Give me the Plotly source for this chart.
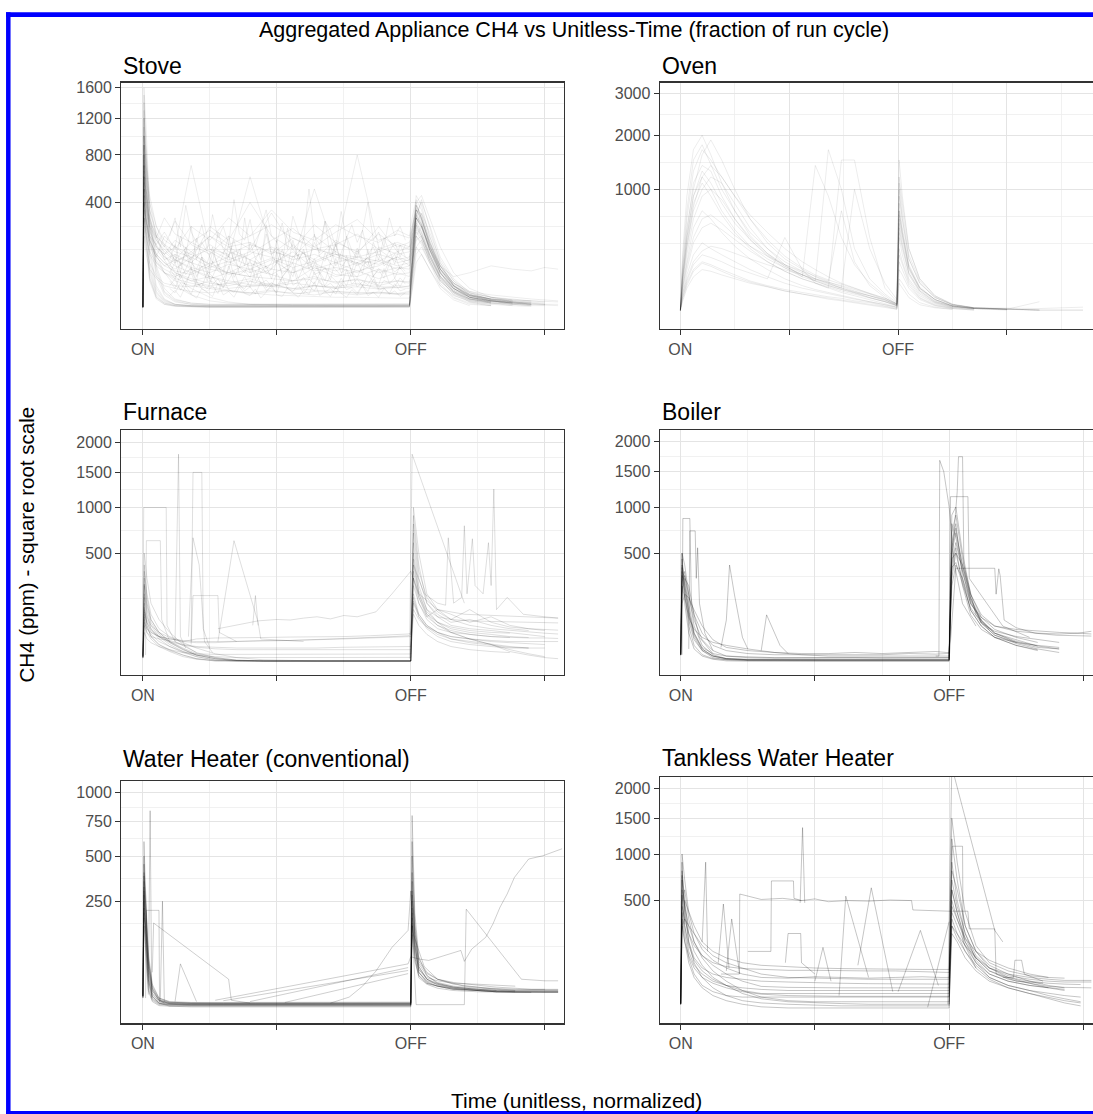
import numpy as np
import plotly.graph_objects as go

N = None
W, H = 1093, 1114

# ------------------------------------------------------------------ data (ppm vs unitless time)
stove_t = [0, 0.004, 0.012, 0.025, 0.05, 0.08, 0.12, 0.18, 0.25, 0.32, 0.4, 0.48, 0.56, 0.64, 0.72,
           0.8, 0.88, 0.95, 0.995, 1.005, 1.02, 1.04, 1.07, 1.11, 1.16, 1.22, 1.3, 1.38, 1.45, 1.5, 1.55]
stove_runs = [
    [3, 1500, 700, 150, 30, 10, 5, 4, 3.5, 3.5, 3.5, 3.4, 3.4, 3.4, 3.4, 3.4, 3.4, 3.4, 3.5, 80, 380, 300, 160, 60, 20, 8, 5, 4, N, N, N],
    [2.5, 1200, 400, 90, 20, 8, 5, 4, 4, 4, 4, 4, 4, 4, 4, 4, 4, 4, 4, 50, 300, 420, 250, 90, 30, 12, 6, 4, 3.5, N, N],
    [3, 900, 250, 60, 15, 6, 4, 3.5, 3.2, 3.2, 3.2, 3.2, 3.2, 3.2, 3.2, 3.2, 3.2, 3.2, 3.3, 40, 200, 250, 140, 50, 18, 7, 4, N, N, N, N],
    [3.5, 1000, 600, 200, 50, 15, 7, 5, 4.5, 4.5, 4.4, 4.4, 4.4, 4.3, 4.3, 4.3, 4.3, 4.3, 4.5, 120, 450, 380, 200, 80, 30, 12, 7, 5, 4, 4, N],
    [2.8, 700, 200, 50, 12, 5, 3.8, 3.3, 3, 3, 3, 3, 3, 3, 3, 3, 3, 3, 3.1, 30, 150, 180, 100, 35, 12, 6, 4, N, N, N, N],
    [3, 1600, 1100, 350, 80, 25, 10, 6, 5, 5, 5, 5, 5, 5, 5, 5, 5, 5, 5.5, 90, 350, 320, 180, 70, 25, 10, 6, 5, 4.5, N, N],
    [2.5, 500, 150, 40, 10, 5, 3.5, 3, 2.8, 2.8, 2.8, 2.8, 2.8, 2.8, 2.8, 2.8, 2.8, 2.8, 2.9, 20, 90, 120, 70, 25, 9, 4, N, N, N, N, N],
    [3.2, 1100, 500, 120, 25, 9, 5, 4, 3.8, 3.8, 3.8, 3.7, 3.7, 3.7, 3.7, 3.7, 3.7, 3.8, 3.9, 60, 260, 330, 220, 100, 40, 15, 8, 5, 4, N, N],
    [3, 800, 300, 70, 18, 7, 4.5, 3.8, 3.6, 3.6, 3.6, 3.6, 3.6, 3.6, 3.6, 3.6, 3.6, 3.6, 3.7, 45, 180, 200, 120, 45, 15, 7, 5, N, N, N, N],
    [2.7, 1300, 800, 250, 60, 18, 8, 5, 4, 3.9, 3.9, 3.9, 3.9, 3.9, 3.9, 3.9, 3.9, 3.9, 4, 100, 400, 450, 300, 150, 60, 25, 12, 7, 5, 4.5, 4],
    [3, 600, 180, 45, 12, 6, 4, 3.4, 3.3, 3.3, 3.3, 3.3, 3.3, 3.3, 3.3, 3.3, 3.3, 3.3, 3.4, 25, 120, 150, 90, 30, 11, 5, 4, N, N, N, N],
    [3.3, 1400, 900, 300, 70, 20, 9, 6, 5, 4.8, 4.6, 4.5, 4.5, 4.5, 4.5, 4.5, 4.5, 4.5, 4.6, 70, 320, 400, 260, 110, 45, 18, 9, 6, 5, N, N],
    [3, 600, 400, 250, 150, 110, 90, 130, 80, 150, 100, 70, 160, 90, 120, 80, 140, 90, 100, 220, 350, 280, 150, 70, 30, 15, 10, 8, N, N, N],
    [3, 400, 300, 200, 160, 220, 140, 250, 180, 300, 200, 350, 220, 180, 260, 200, 170, 230, 200, 300, 420, 350, 200, 90, 40, 20, 12, 9, 8, 7, N],
    [3, 300, 200, 120, 80, 60, 50, 70, 45, 60, 90, 55, 40, 75, 50, 65, 45, 60, 50, 150, 280, 220, 120, 50, 20, 10, 7, 6, 5, N, N],
    [3, 800, 500, 300, 200, 150, 280, 160, 120, 200, 140, 330, 150, 100, 180, 120, 250, 130, 150, 250, 400, 300, 170, 80, 35, 18, 12, 10, 8, N, N],
    [3, 250, 150, 90, 50, 35, 30, 28, 40, 25, 30, 35, 22, 30, 28, 35, 25, 30, 28, 90, 200, 160, 90, 40, 18, 10, 7, N, N, N, N],
    [3, 1000, 700, 400, 250, 180, 150, 120, 200, 130, 100, 150, 110, 200, 130, 800, 150, 120, 130, 180, 300, 250, 140, 70, 35, 20, 15, 12, 10, 9, 8],
    [3, 500, 350, 220, 150, 120, 150, 700, 140, 120, 160, 130, 110, 140, 120, 110, 130, 160, 140, 200, 300, 250, 150, 80, 50, 60, 80, 70, 65, 75, 70],
    [3, 350, 250, 180, 120, 90, 70, 110, 75, 95, 60, 85, 130, 70, 90, 65, 80, 110, 80, 160, 260, 200, 110, 50, 22, 12, 8, 7, 6, 5, N],
    [3, 450, 300, 180, 110, 200, 150, 100, 250, 180, 400, 200, 140, 260, 170, 130, 210, 150, 170, 230, 380, 300, 160, 70, 30, 15, 10, N, N, N, N],
    [3, 200, 120, 70, 45, 30, 25, 20, 18, 22, 16, 20, 18, 15, 20, 17, 19, 16, 18, 60, 150, 120, 70, 30, 14, 8, 6, 5, N, N, N],
    [3, 700, 450, 250, 180, 140, 100, 170, 130, 90, 120, 180, 240, 150, 110, 90, 120, 100, 110, 200, 320, 260, 140, 60, 25, 12, 8, 6, 5, 5, N],
    [3, 300, 220, 160, 110, 80, 65, 55, 80, 60, 50, 70, 60, 90, 55, 50, 70, 55, 60, 120, 240, 200, 110, 50, 25, 14, 10, 9, 8, 7, 7],
    [3, 900, 600, 350, 200, 120, 60, 40, 30, 35, 28, 32, 25, 30, 26, 28, 24, 27, 25, 80, 220, 180, 100, 40, 16, 9, 6, N, N, N, N],
    [3, 550, 380, 260, 190, 300, 210, 170, 230, 160, 200, 260, 190, 150, 220, 290, 180, 210, 190, 250, 350, 290, 170, 80, 35, 18, 12, 9, N, N, N],
    [3, 400, 280, 200, 140, 100, 120, 90, 160, 110, 600, 140, 100, 120, 90, 110, 95, 130, 100, 180, 300, 240, 130, 60, 25, 12, 8, 6, N, N, N],
    [3, 650, 420, 280, 200, 160, 130, 110, 140, 100, 130, 110, 90, 500, 120, 100, 85, 110, 95, 200, 330, 270, 140, 65, 28, 14, 9, 7, 6, N, N],
    [3, 800, 500, 250, 120, 60, 30, 15, 8, 6, 5, 5, 5, 5, 5, 5, 5, 5, 5, 60, 300, 250, 150, 60, 25, 12, 8, 6, N, N, N],
    [3, 1000, 700, 400, 200, 100, 50, 25, 12, 7, 5, 4.5, 4.5, 4.5, 4.5, 4.5, 4.5, 4.5, 4.5, 80, 350, 300, 170, 70, 30, 14, 8, 6, 5, N, N],
    [3, 600, 400, 200, 100, 60, 40, 30, 25, 20, 18, 22, 16, 20, 18, 15, 19, 17, 20, 70, 250, 200, 110, 45, 20, 10, 7, N, N, N, N],
    [3, 450, 300, 160, 90, 70, 55, 40, 50, 35, 45, 30, 40, 50, 35, 45, 30, 40, 35, 100, 260, 210, 120, 55, 25, 13, 9, 7, N, N, N],
    [3, 700, 450, 280, 160, 110, 80, 60, 90, 55, 70, 100, 60, 80, 65, 90, 60, 75, 70, 140, 300, 250, 140, 60, 28, 14, 9, 7, 6, N, N],
    [3, 350, 260, 170, 110, 80, 100, 75, 60, 85, 70, 55, 90, 65, 75, 60, 95, 70, 80, 130, 270, 220, 120, 50, 22, 11, 8, 6, N, N, N],
    [3, 900, 600, 350, 220, 150, 110, 90, 70, 60, 50, 45, 40, 45, 38, 42, 36, 40, 38, 100, 320, 260, 140, 60, 25, 12, 8, 6, 5, N, N],
    [3, 500, 350, 230, 150, 120, 180, 130, 200, 150, 170, 120, 190, 140, 160, 210, 140, 170, 150, 220, 360, 290, 160, 75, 32, 16, 10, 8, 7, N, N],
    [3, 400, 280, 180, 120, 90, 60, 45, 35, 30, 40, 28, 35, 30, 25, 32, 28, 26, 30, 80, 230, 190, 100, 45, 20, 10, 7, N, N, N, N],
    [3, 750, 500, 300, 180, 130, 95, 120, 85, 110, 80, 105, 75, 95, 130, 85, 100, 80, 90, 160, 310, 260, 150, 70, 30, 15, 10, 8, 7, 6, N],
    [3, 300, 200, 130, 90, 60, 45, 35, 28, 22, 18, 15, 14, 13, 12, 12, 11, 11, 11, 50, 200, 170, 95, 40, 18, 9, 6, N, N, N, N],
    [3, 1200, 800, 450, 250, 160, 100, 70, 50, 40, 32, 28, 25, 22, 20, 18, 17, 16, 16, 90, 380, 320, 180, 80, 35, 16, 10, 7, 6, 5, 5],
]
# finely sampled noisy stretches of stove runs (between ignition and shut-off)
stove_fine_t = [0.1, 0.12, 0.14, 0.16, 0.18, 0.2, 0.22, 0.24, 0.26, 0.28, 0.3, 0.32, 0.34, 0.36, 0.38,
                0.4, 0.42, 0.44, 0.46, 0.48, 0.5, 0.52, 0.54, 0.56, 0.58, 0.6, 0.62, 0.64, 0.66, 0.68,
                0.7, 0.72, 0.74, 0.76, 0.78, 0.8, 0.82, 0.84, 0.86, 0.88, 0.9, 0.92, 0.94, 0.96, 0.98]
stove_fine_runs = [
    [14, 22, 12, 30, 16, 11, 25, 18, 13, 35, 15, 20, 12, 28, 17, 14, 24, 11, 19, 32, 15, 13, 26, 18, 12, 22, 16, 38, 14, 20, 13, 27, 17, 12, 23, 15, 30, 14, 19, 12, 25, 16, 21, 13, 18],
    [40, 25, 55, 30, 70, 35, 28, 60, 32, 45, 26, 80, 38, 30, 50, 27, 65, 33, 42, 29, 58, 36, 31, 75, 34, 48, 28, 62, 35, 30, 52, 40, 27, 68, 33, 44, 29, 56, 37, 31, 72, 35, 46, 28, 50],
    [30, 45, 22, 38, 60, 28, 35, 24, 50, 32, 27, 42, 65, 30, 25, 40, 34, 55, 26, 36, 29, 48, 70, 31, 38, 26, 44, 33, 58, 28, 35, 24, 46, 30, 62, 27, 39, 32, 52, 25, 41, 35, 28, 47, 33],
    [80, 120, 60, 150, 90, 70, 110, 55, 130, 85, 65, 160, 95, 75, 120, 60, 100, 140, 70, 90, 180, 80, 65, 115, 95, 140, 70, 105, 60, 125, 85, 170, 75, 100, 65, 135, 90, 110, 70, 150, 80, 95, 120, 70, 100],
    [60, 45, 90, 55, 75, 40, 110, 65, 50, 85, 45, 70, 130, 55, 65, 48, 95, 60, 80, 44, 100, 58, 72, 50, 120, 62, 47, 88, 56, 76, 42, 105, 60, 70, 50, 92, 58, 140, 52, 68, 46, 85, 62, 75, 55],
    [150, 90, 200, 120, 250, 100, 170, 130, 90, 220, 140, 110, 180, 95, 300, 130, 160, 100, 210, 120, 150, 90, 240, 140, 115, 190, 100, 170, 125, 280, 110, 160, 95, 200, 135, 105, 230, 120, 150, 100, 190, 130, 170, 110, 160],
    [100, 160, 80, 130, 70, 190, 110, 90, 150, 75, 120, 200, 95, 140, 80, 170, 105, 85, 260, 115, 90, 140, 75, 180, 100, 130, 85, 210, 110, 95, 155, 80, 125, 190, 90, 145, 100, 80, 170, 115, 95, 135, 85, 160, 110],
    [200, 300, 150, 380, 220, 170, 260, 140, 320, 190, 250, 160, 420, 210, 180, 290, 150, 240, 350, 200, 170, 270, 140, 310, 220, 180, 500, 200, 160, 280, 230, 150, 340, 190, 260, 170, 230, 400, 180, 220, 150, 300, 200, 250, 180],
    [25, 18, 35, 22, 16, 40, 24, 20, 30, 17, 45, 23, 19, 33, 21, 28, 16, 38, 22, 26, 18, 50, 24, 20, 32, 17, 29, 21, 42, 19, 25, 16, 36, 23, 27, 18, 31, 20, 44, 22, 26, 17, 34, 21, 24],
    [60, 90, 45, 70, 110, 50, 80, 40, 95, 65, 55, 120, 48, 75, 60, 100, 42, 85, 58, 70, 130, 50, 66, 90, 45, 78, 105, 55, 62, 40, 88, 70, 52, 115, 60, 48, 82, 95, 50, 72, 58, 100, 46, 80, 64],
]
stove_extra_x = [stove_fine_t] * len(stove_fine_runs)
stove_extra_y = stove_fine_runs

oven_t = [0, 0.01, 0.03, 0.06, 0.1, 0.14, 0.19, 0.25, 0.32, 0.4, 0.48, 0.56, 0.62, 0.68, 0.74,
          0.8, 0.87, 0.94, 0.995, 1.005, 1.02, 1.05, 1.1, 1.17, 1.25, 1.35, 1.5, 1.65, 1.85]
oven_runs = [
    [6, 100, 400, 900, 1300, 1100, 800, 550, 380, 250, 170, 120, 90, 70, 55, 45, 30, 20, 12, 700, 450, 170, 60, 25, 12, 8, N, N, N],
    [5, 200, 700, 1500, 1800, 1400, 1000, 700, 450, 300, 200, 140, 100, 80, 60, 45, 35, 25, 15, 1000, 600, 220, 80, 30, 14, 9, 7, N, N],
    [7, 60, 200, 500, 700, 600, 450, 320, 220, 150, 100, 70, 55, 45, 35, 28, 20, 14, 9, 400, 250, 100, 40, 18, 10, 7, N, N, N],
    [5, 150, 500, 1000, 1600, 1900, 1500, 1000, 600, 350, 220, 150, 110, 85, 65, 50, 35, 22, 14, 1200, 800, 300, 100, 35, 15, 9, 7, 6, N],
    [6, 40, 120, 250, 350, 300, 250, 200, 150, 110, 80, 60, 50, 40, 32, 26, 20, 14, 10, 300, 200, 90, 35, 16, 9, N, N, N, N],
    [5, 80, 300, 700, 1000, 1200, 1100, 800, 500, 300, 180, 110, 1400, 900, 400, 180, 80, 35, 15, 800, 500, 180, 65, 25, 12, 8, 6, N, N],
    [6, 30, 80, 150, 200, 180, 150, 120, 90, 70, 55, 45, 38, 32, 28, 22, 18, 12, 8, 150, 120, 60, 25, 12, 8, 6, N, N, N],
    [5, 120, 450, 1100, 1400, 1300, 900, 600, 380, 240, 160, 110, 90, 1700, 1000, 300, 100, 40, 18, 900, 600, 220, 80, 30, 14, 9, 7, 6, 6],
    [7, 50, 150, 350, 500, 550, 480, 380, 280, 200, 140, 100, 80, 65, 50, 40, 30, 20, 12, 500, 320, 130, 50, 20, 11, 8, 7, N, N],
    [6, 250, 900, 1700, 2000, 1600, 1100, 700, 420, 260, 170, 120, 90, 70, 55, 42, 30, 20, 13, 1500, 900, 300, 100, 35, 15, 9, 7, 6, N],
    [5, 20, 60, 110, 150, 140, 120, 100, 80, 65, 50, 40, 34, 28, 24, 20, 15, 11, 7, 100, 80, 40, 18, 10, 7, N, N, N, N],
    [6, 100, 350, 800, 1100, 900, 650, 450, 300, 200, 140, 100, 80, 60, 1500, 1500, 400, 60, 20, 600, 400, 150, 55, 22, 11, 8, N, N, N],
    [7, 70, 250, 600, 900, 1000, 850, 600, 400, 260, 180, 130, 100, 80, 60, 48, 35, 24, 14, 700, 450, 160, 60, 25, 12, 8, 7, 20, N],
    [6, 40, 100, 200, 280, 320, 300, 260, 220, 180, 150, 120, 100, 85, 70, 55, 40, 25, 12, 250, 180, 80, 30, 14, 9, 7, N, N, N],
    [5, 150, 600, 1300, 1700, 1500, 1200, 900, 650, 450, 300, 200, 150, 110, 80, 60, 42, 28, 16, 1100, 700, 250, 90, 32, 14, 9, 7, 6, 6],
    [6, 30, 90, 180, 250, 230, 200, 160, 130, 100, 400, 150, 80, 60, 45, 35, 25, 16, 10, 200, 150, 70, 28, 13, 8, 6, N, N, N],
    [7, 60, 180, 400, 600, 650, 550, 420, 320, 240, 180, 140, 110, 90, 700, 200, 70, 30, 14, 450, 300, 120, 45, 18, 10, 8, 7, N, N],
    [5, 90, 320, 750, 1200, 1400, 1200, 900, 600, 380, 240, 160, 120, 95, 75, 58, 42, 28, 16, 650, 420, 160, 60, 25, 12, 8, 7, 6, N],
    [6, 25, 70, 140, 190, 170, 140, 110, 85, 65, 50, 40, 32, 26, 22, 18, 14, 10, 7, 80, 60, 30, 14, 9, 7, N, N, N, N],
    [6, 110, 400, 900, 1200, 1000, 700, 480, 320, 220, 160, 120, 95, 75, 60, 1000, 300, 80, 25, 550, 350, 130, 50, 20, 12, 9, 8, 8, 10],
]
oven_extra_x = []
oven_extra_y = []

furnace_t = [0, 0.005, 0.015, 0.03, 0.06, 0.1, 0.15, 0.2, 0.27, 0.35, 0.45, 0.55, 0.65, 0.75, 0.85,
             0.93, 0.99, 1.0, 1.01, 1.03, 1.06, 1.1, 1.15, 1.22, 1.3, 1.37, 1.44, 1.5, 1.55]
furnace_runs = [
    [1.5, 150, 60, 30, 15, 8, 3, 1, 0.4, 0.3, 0.3, 0.3, 0.3, 0.3, 0.3, 0.3, 0.3, 0.3, 300, 150, 80, 50, 40, 35, 30, 28, N, N, N],
    [2, 250, 100, 50, 25, 12, 5, 2, 0.6, 0.3, 0.25, 0.25, 0.25, 0.25, 0.25, 0.25, 0.25, 0.3, 600, 250, 120, 70, 50, 40, 35, 30, 28, N, N],
    [1.2, 80, 40, 25, 12, 6, 2, 0.8, 0.3, 0.2, 0.2, 0.2, 0.2, 0.2, 0.2, 0.2, 0.2, 0.2, 200, 100, 60, 40, 25, 20, 15, 12, 10, N, N],
    [3, 300, 150, 80, 40, 20, 10, 4, 1.5, 0.5, 0.3, 0.3, 0.3, 0.3, 0.3, 0.3, 0.3, 0.3, 900, 400, 150, 90, 60, 50, 45, 40, 35, 30, N],
    [2, 100, 70, 40, 30, 25, 20, 18, 18, 20, 22, 22, 24, 25, 27, 30, 32, 35, 250, 150, 90, 60, 45, 35, 30, 28, 27, 27, 26],
    [1.5, 60, 40, 30, 25, 22, 15, 12, 11, 10, 10, 10, 10, 11, 11, 12, 12, 12, 180, 90, 50, 30, 20, 15, 12, 10, 10, N, N],
    [1.3, 200, 120, 60, 30, 15, 6, 2, 0.5, 0.3, 0.3, 0.3, 0.3, 0.3, 0.3, 0.3, 0.3, 0.3, 400, 200, 100, 60, 40, 25, 15, 8, 4, 2, N],
    [2.5, 350, 200, 100, 50, 30, 20, 25, 27, 27, 28, 29, 29, 30, 32, 34, 36, 38, 300, 180, 100, 70, 55, 45, 40, 38, N, N, N],
    [1.5, 120, 80, 50, 30, 18, 8, 3, 1, 0.4, 0.3, 0.3, 0.3, 0.3, 0.3, 0.3, 0.3, 0.3, 500, 220, 120, 90, 80, 75, 73, 72, 72, 70, 68],
    [2, 90, 50, 35, 20, 12, 6, 3, 2, 1.5, 1.5, 1.5, 1.5, 1.5, 1.5, 1.6, 1.6, 1.6, 150, 90, 55, 35, 25, 18, 14, 11, 10, 10, N],
    [1.8, 500, 300, 150, 80, 40, 15, 5, 1.5, 0.5, 0.3, 0.3, 0.3, 0.3, 0.3, 0.3, 0.3, 0.3, 1000, 500, 200, 120, 80, 60, 50, 45, 40, 38, 36],
    [1.2, 40, 25, 18, 12, 8, 5, 4, 3.5, 3.5, 3.5, 3.5, 3.5, 3.6, 3.6, 3.7, 3.8, 3.8, 100, 60, 35, 20, 12, 8, 6, 5, N, N, N],
    [2.2, 180, 90, 60, 40, 28, 18, 10, 4, 1.5, 0.6, 0.4, 0.3, 0.3, 0.3, 0.3, 0.3, 0.3, 700, 300, 150, 100, 70, 80, 60, 50, 45, N, N],
    [1.5, 70, 50, 40, 30, 25, 22, 20, 20, 20, 21, 22, 23, 25, 27, 28, 30, 30, 120, 80, 55, 40, 30, 25, 22, 20, 20, 20, 20],
    [1.5, 130, 60, 30, 15, 7, 3, 1, 0.3, 0.25, 0.25, 0.25, 0.25, 0.25, 0.25, 0.25, 0.25, 0.25, 350, 180, 90, 120, 100, 70, 90, 60, 50, 45, N],
    [2, 260, 140, 70, 35, 18, 8, 3, 1, 0.4, 0.3, 0.3, 0.3, 0.3, 0.3, 0.3, 0.3, 0.3, 450, 200, 110, 70, 40, 25, 15, 6, 3, 1.5, 1],
    [1.6, 110, 70, 45, 30, 20, 14, 11, 9, 8, 8, 8, 8, 8, 8, 8, 8, 8, 160, 100, 60, 40, 30, 25, 20, 18, 16, 15, N],
    [2, 400, 180, 80, 40, 20, 9, 3, 1, 0.4, 0.3, 0.3, 0.3, 0.3, 0.3, 0.3, 0.3, 0.3, 800, 350, 180, 110, 80, 120, 70, 55, 50, 48, 46],
]
furnace_extra_x = [
    [0, 0.003, 0.087, 0.09, 0.12, 0.2],
    [0.01, 0.013, 0.065, 0.07, 0.1],
    [0.12, 0.133, 0.14, 0.16],
    [0.18, 0.187, 0.22, 0.225, 0.25],
    [0.17, 0.187, 0.21, 0.23, 0.26],
    [0.18, 0.187, 0.28, 0.285, 0.35],
    [0.28, 0.34, 0.43, 0.44, 0.6],
    [0.41, 0.42, 0.43],
    [0.28, 0.35, 0.43, 0.5, 0.55, 0.6, 0.65, 0.7, 0.75, 0.8, 0.87, 0.93, 0.97, 1.0, 1.03, 1.1, 1.2, 1.3, 1.4, 1.5, 1.55],
    [0.995, 1.005, 1.2],
    [1.01, 1.05, 1.1, 1.13, 1.14, 1.16, 1.19, 1.2, 1.21, 1.23, 1.24, 1.27, 1.29, 1.3, 1.31, 1.32, 1.36, 1.42, 1.5, 1.55],
]
furnace_extra_y = [
    [2, 1000, 1000, 60, 20, 5],
    [3, 620, 620, 80, 20],
    [20, 1800, 30, 10],
    [20, 1500, 1500, 50, 10],
    [30, 650, 400, 20, 5],
    [15, 190, 190, 40, 20],
    [20, 620, 70, 25, 20],
    [60, 190, 60],
    [50, 60, 75, 80, 78, 85, 90, 82, 95, 90, 110, 200, 280, 350, 200, 120, 100, 95, 90, 88, 85],
    [1, 1800, 150],
    [400, 200, 150, 140, 650, 150, 180, 780, 200, 640, 250, 200, 600, 250, 1250, 120, 180, 100, 90, 85],
]

boiler_t = [0, 0.005, 0.015, 0.03, 0.05, 0.08, 0.12, 0.17, 0.25, 0.35, 0.45, 0.55, 0.65, 0.75, 0.85,
            0.95, 0.99, 1.0, 1.01, 1.025, 1.05, 1.08, 1.12, 1.17, 1.25, 1.33, 1.41, 1.48, 1.53]
boiler_runs = [
    [4, 450, 200, 60, 15, 4, 1.5, 1, 0.8, 0.8, 0.8, 0.8, 0.8, 0.8, 0.8, 0.8, 0.8, 0.8, 600, 800, 300, 120, 60, 30, 15, 8, N, N, N],
    [3.5, 300, 350, 150, 40, 10, 3, 1.5, 1, 0.9, 0.9, 0.9, 0.9, 0.9, 0.9, 0.9, 0.9, 0.9, 400, 600, 350, 150, 80, 40, 20, 12, 10, N, N],
    [4, 500, 150, 40, 10, 3, 1.2, 0.6, 0.5, 0.5, 0.5, 0.5, 0.5, 0.5, 0.5, 0.5, 0.5, 0.5, 900, 1000, 500, 200, 90, 50, 30, 20, N, N, N],
    [5, 200, 300, 250, 100, 40, 15, 8, 5, 4, 4, 4, 4.5, 4, 5, 4.5, 5, 5, 300, 500, 400, 200, 100, 60, 45, 40, 38, 40, 38],
    [4, 350, 250, 100, 30, 8, 2, 1, 0.7, 0.6, 0.6, 0.6, 0.6, 0.6, 0.6, 0.6, 0.6, 0.6, 700, 900, 450, 180, 70, 35, 18, 10, 6, N, N],
    [4.5, 150, 200, 180, 120, 60, 25, 12, 8, 6, 5, 5, 6, 5, 6, 7, 6, 6, 250, 400, 300, 150, 90, 60, 50, 45, 42, 40, 45],
    [3.5, 400, 300, 120, 35, 10, 3, 1.3, 0.9, 0.8, 0.8, 0.8, 0.8, 0.8, 0.8, 0.8, 0.8, 0.8, 500, 700, 400, 180, 80, 40, 25, 14, N, N, N],
    [4, 250, 180, 90, 50, 30, 20, 15, 10, 6, 4, 3, 3, 3, 3, 3, 3, 3, 350, 550, 250, 100, 50, 30, 20, 15, 12, N, N],
    [4, 500, 400, 200, 60, 15, 4, 1.5, 1, 1, 1, 1, 1, 1, 1, 1, 1, 1, 800, 650, 350, 160, 70, 35, 20, N, N, N, N],
    [3.8, 320, 220, 80, 25, 8, 3, 1.5, 1.2, 1.2, 1.2, 1.2, 1.2, 1.2, 1.2, 1.2, 1.2, 1.2, 450, 500, 280, 120, 60, 30, 15, 9, N, N, N],
    [4.2, 380, 260, 110, 40, 12, 5, 3, 2.5, 2, 2, 2, 2, 2, 2, 2, 2, 2, 550, 750, 380, 170, 75, 40, 22, 14, 10, N, N],
    [4, 280, 320, 200, 80, 25, 8, 3, 2, 1.8, 2, 1.8, 2, 1.8, 2, 1.8, 2, 2, 380, 420, 260, 130, 70, 45, 32, 25, 20, N, N],
]
boiler_extra_x = [
    [0.005, 0.008, 0.034, 0.04, 0.07, 0.12],
    [0.03, 0.034, 0.054, 0.058, 0.063, 0.07, 0.09, 0.12],
    [0.15, 0.17, 0.182, 0.2, 0.23, 0.25],
    [0.3, 0.32, 0.37, 0.4],
    [0.95, 0.962, 0.965, 0.98, 1.0, 1.02, 1.05, 1.1],
    [1.0, 1.005, 1.03, 1.035, 1.05, 1.055, 1.1, 1.15],
    [1.0, 1.005, 1.07, 1.075, 1.2, 1.3],
    [1.0, 1.02, 1.025, 1.17, 1.175, 1.185, 1.19, 1.205, 1.25, 1.32, 1.4, 1.53],
]
boiler_extra_y = [
    [4, 860, 860, 150, 30, 5],
    [10, 720, 720, 300, 550, 150, 40, 8],
    [12, 80, 400, 200, 30, 10],
    [8, 100, 15, 5],
    [3, 3, 1680, 1500, 1000, 400, 150, 60],
    [1, 300, 1200, 1740, 1740, 400, 100, 50],
    [1, 1136, 1136, 300, 60, 30],
    [1, 300, 374, 374, 200, 370, 320, 80, 55, 40, 35, 33],
]

wh_t = [0, 0.004, 0.01, 0.02, 0.035, 0.06, 0.1, 0.18, 0.3, 0.42, 0.55, 0.68, 0.8, 0.9, 0.97,
        0.995, 1.0, 1.005, 1.015, 1.03, 1.06, 1.1, 1.16, 1.25, 1.32, 1.39, 1.45, 1.5, 1.55]
wh_runs = [
    [4, 300, 200, 20, 3, 1, 0.8, 0.7, 0.7, 0.7, 0.7, 0.7, 0.7, 0.7, 0.7, 0.7, 0.7, 200, 60, 25, 15, 12, 10, 8, 7, 7, 7, 7, 7],
    [3, 500, 100, 10, 2, 0.6, 0.5, 0.5, 0.5, 0.5, 0.5, 0.5, 0.5, 0.5, 0.5, 0.5, 0.5, 400, 100, 30, 16, 12, 9, 8, 7, 7, 6.5, 6.5, 6.5],
    [5, 200, 150, 40, 8, 2, 1.2, 1, 1, 1, 1, 1, 1, 1, 1, 1, 1, 150, 70, 30, 18, 14, 11, 9, 8, 7.5, 7.5, 7.5, 7.5],
    [4, 350, 60, 8, 1.5, 0.4, 0.3, 0.3, 0.3, 0.3, 0.3, 0.3, 0.3, 0.3, 0.3, 0.3, 0.3, 250, 90, 35, 20, 15, 11, 9, 8, N, N, N, N],
    [3.5, 250, 180, 30, 5, 1.5, 1, 0.9, 0.9, 0.9, 0.9, 0.9, 0.9, 0.9, 0.9, 0.9, 0.9, 300, 120, 45, 25, 16, 12, 10, 9, 8.5, 8.5, 8.5, 8.5],
    [4, 400, 250, 50, 10, 2, 0.8, 0.6, 0.6, 0.6, 0.6, 0.6, 0.6, 0.6, 0.6, 0.6, 0.6, 500, 150, 40, 20, 13, 10, 8.5, 7.5, 7, 7, 7, 7],
    [3, 150, 90, 20, 4, 1, 0.5, 0.4, 0.4, 0.4, 0.4, 0.4, 0.4, 0.4, 0.4, 0.4, 0.4, 120, 50, 25, 15, 12, 9, 8, 7, 6.5, 6.5, N, N],
    [4.5, 600, 300, 60, 12, 3, 1.5, 1.2, 1.2, 1.2, 1.2, 1.2, 1.2, 1.2, 1.2, 1.2, 1.3, 800, 200, 60, 25, 15, 11, 9, 8, 8, 8, 8, 8],
    [4, 280, 120, 15, 2.5, 0.8, 0.6, 0.6, 0.6, 0.6, 0.6, 0.6, 0.6, 0.6, 0.6, 0.6, 0.6, 180, 80, 35, 22, 18, 15, 14, 13, 12, N, N, N],
    [3.5, 320, 220, 45, 8, 2, 0.9, 0.7, 0.7, 0.7, 0.7, 0.7, 0.7, 0.7, 0.7, 0.7, 0.8, 350, 110, 40, 20, 14, 10, 8, 7, 7, 7, 7, 7],
    [4, 180, 140, 35, 6, 1.5, 0.7, 0.5, 0.5, 0.5, 0.5, 0.5, 0.5, 0.5, 0.5, 0.5, 0.5, 220, 90, 30, 17, 12, 9, 8, 7, 7, N, N, N],
    [4, 450, 280, 55, 10, 2.5, 1.1, 0.9, 0.9, 0.9, 0.9, 0.9, 0.9, 0.9, 0.9, 0.9, 1, 280, 130, 50, 28, 20, 16, 13, 11, 10, 9, 9, 9],
    [3, 220, 160, 25, 4, 1, 0.3, 0.2, 0.2, 0.2, 0.2, 0.2, 0.2, 0.2, 0.2, 0.2, 0.2, 160, 60, 22, 14, 10, 8, 7, 6.5, 6.5, 6.5, 6.5, 6.5],
    [4, 380, 240, 70, 14, 3, 1.3, 1, 1, 1, 1, 1, 1, 1, 1, 1, 1, 600, 160, 55, 30, 20, 14, 11, 9, 8, N, N, N],
]
wh_extra_x = [
    [0.02, 0.027, 0.033],
    [0.01, 0.013, 0.06, 0.062, 0.08],
    [0.065, 0.073, 0.08],
    [0.035, 0.04, 0.32, 0.33, 0.4],
    [0.12, 0.14, 0.2],
    [0.27, 0.99, 1.0],
    [0.4, 0.99],
    [0.53, 0.99],
    [0.3, 0.99],
    [0.7, 0.77, 0.82, 0.87, 0.93, 0.99, 1.0, 1.01, 1.05, 1.1, 1.2, 1.3, 1.4, 1.5],
    [1.0, 1.03, 1.067, 1.107, 1.147, 1.187, 1.2, 1.227, 1.28, 1.307, 1.333, 1.36, 1.387, 1.44, 1.493, 1.557, 1.565],
    [1.0, 1.005, 1.02, 1.2, 1.207, 1.413, 1.5, 1.55],
]
wh_extra_y = [
    [5, 840, 3],
    [3, 210, 210, 2, 1],
    [2, 250, 1.5],
    [30, 160, 20, 2, 1],
    [1.5, 45, 1.5],
    [2, 45, 60],
    [1.5, 38],
    [1.2, 28],
    [1.8, 33],
    [1, 3.5, 12, 32, 83, 134, 300, 120, 40, 20, 12, 10, 9, 9],
    [60, 55, 52, 59, 67, 75, 50, 78, 112, 157, 223, 285, 372, 482, 503, 541, 550],
    [0.6, 150, 0.6, 0.6, 215, 20, 18, 18],
]

tankless_t = [0, 0.005, 0.015, 0.03, 0.05, 0.08, 0.12, 0.17, 0.23, 0.3, 0.4, 0.5, 0.6, 0.7, 0.8,
              0.9, 0.97, 0.995, 1.0, 1.01, 1.03, 1.06, 1.1, 1.15, 1.22, 1.3, 1.37, 1.43, 1.49, 1.53]
tankless_runs = [
    [3, 700, 400, 200, 120, 80, 60, 50, 45, 40, 38, 36, 35, 34, 34, 33, 33, 33, 33, 600, 400, 200, 120, 70, 50, 40, 35, 33, 32, N],
    [3, 900, 300, 150, 90, 60, 40, 30, 25, 22, 20, 20, 20, 20, 20, 20, 20, 20, 20, 900, 500, 250, 110, 60, 40, 30, 25, 22, N, N],
    [3.5, 500, 600, 350, 200, 130, 100, 85, 78, 75, 72, 72, 70, 70, 70, 68, 66, 65, 65, 300, 250, 180, 120, 80, 60, 50, 45, 42, 42, 42],
    [3, 400, 250, 120, 60, 30, 18, 12, 10, 10, 10, 10, 10, 10, 10, 10, 10, 10, 10, 1200, 700, 300, 150, 80, 50, 35, 25, 20, N, N],
    [4, 300, 200, 130, 80, 50, 35, 25, 18, 14, 12, 11, 11, 11, 11, 11, 11, 11, 11, 400, 300, 180, 100, 60, 40, 30, 25, N, N, N],
    [3, 800, 500, 250, 150, 90, 50, 30, 15, 8, 5, 4, 3.5, 3, 3, 3, 3, 3, 3, 500, 350, 200, 100, 50, 30, 20, 12, 8, 5, N],
    [3, 600, 450, 300, 250, 180, 130, 100, 80, 60, 50, 48, 46, 45, 45, 45, 45, 45, 45, 700, 450, 250, 130, 80, 55, 45, 40, 38, 38, 38],
    [3.5, 350, 200, 100, 50, 25, 12, 6, 3, 1.5, 1, 1, 1, 1, 1, 1, 1, 1, 1, 350, 250, 150, 80, 45, 25, 15, 8, 4, 2, N],
    [3, 450, 350, 250, 180, 130, 90, 60, 40, 28, 26, 25, 25, 25, 25, 25, 25, 25, 25, 800, 600, 300, 150, 90, 60, 40, 30, 25, N, N],
    [4, 250, 500, 400, 300, 200, 150, 120, 100, 90, 85, 80, 78, 78, 76, 75, 75, 75, 75, 450, 350, 220, 150, 110, 80, 60, 50, N, N, N],
    [3, 750, 450, 200, 100, 50, 25, 12, 6, 4, 3, 2.5, 2, 2, 2, 2, 2, 2, 2, 250, 200, 120, 70, 40, 25, 15, 10, 6, 4, N],
    [3, 550, 300, 180, 110, 70, 45, 30, 20, 15, 15, 15, 15, 15, 15, 15, 15, 15, 15, 600, 400, 220, 120, 70, 45, 35, 28, 26, 25, 25],
    [3.5, 1000, 700, 400, 250, 160, 110, 80, 60, 50, 48, 52, 50, 48, 50, 52, 50, 50, 50, 1500, 900, 400, 180, 100, 70, 55, 50, 48, N, N],
    [3, 300, 350, 300, 200, 120, 70, 40, 20, 10, 6, 5, 5, 5, 5, 5, 5, 5, 5, 300, 220, 150, 90, 50, 30, 20, 15, 12, 10, N],
]
tankless_extra_x = [
    [0.15, 0.218, 0.22, 0.3, 0.38, 0.45, 0.5, 0.55, 0.62, 0.7, 0.78, 0.86, 0.865, 0.95, 1.0, 1.07, 1.075, 1.17, 1.175, 1.25, 1.35],
    [0.25, 0.336, 0.338, 0.42, 0.422, 0.45],
    [0.445, 0.454, 0.462],
    [0.39, 0.4, 0.447, 0.45, 0.5],
    [0.59, 0.615, 0.7],
    [0.66, 0.71, 0.79],
    [0.81, 0.893, 0.96],
    [0.92, 1.0],
    [0.995, 1.005, 1.01, 1.17, 1.2],
    [1.0, 1.005, 1.012, 1.05, 1.052, 1.1],
    [1.2, 1.24, 1.245, 1.27, 1.28, 1.35],
    [0.08, 0.093, 0.1],
    [0.14, 0.159, 0.18],
    [0.17, 0.19, 0.22],
    [0.5, 0.53, 0.56],
]
tankless_extra_y = [
    [60, 60, 560, 510, 520, 500, 515, 490, 500, 495, 505, 500, 420, 410, 410, 410, 280, 280, 60, 40, 35],
    [150, 150, 690, 690, 520, 500],
    [480, 1360, 480],
    [100, 250, 250, 100, 60],
    [12, 540, 50],
    [90, 620, 18],
    [18, 270, 30],
    [1.3, 330],
    [3, 1500, 2400, 270, 200],
    [3, 500, 1100, 1100, 200, 80],
    [50, 50, 110, 110, 60, 40],
    [200, 900, 150],
    [100, 470, 80],
    [70, 350, 60],
    [40, 170, 40],
]

panel_titles = ["Stove", "Oven", "Furnace", "Boiler", "Water Heater (conventional)", "Tankless Water Heater"]
stove_yticks = [400, 800, 1200, 1600]
oven_yticks = [1000, 2000, 3000]
furnace_yticks = [500, 1000, 1500, 2000]
boiler_yticks = [500, 1000, 1500, 2000]
wh_yticks = [250, 500, 750, 1000]
tankless_yticks = [500, 1000, 1500, 2000]
x_tickvals = [0, 0.5, 1, 1.5]
x_ticktext = ["ON", "", "OFF", ""]
x_minor = [0.25, 0.75, 1.25, 1.75]

main_title = "Aggregated Appliance CH4 vs Unitless-Time (fraction of run cycle)"
y_title = "CH4 (ppm) - square root scale"
x_title = "Time (unitless, normalized)"

# ------------------------------------------------------------------ layout geometry (pixels)
LEFT_X = (121.4, 564.0)
RIGHT_X = (659.9, 1093.0)
panels = [
    dict(t=stove_t, runs=stove_runs, ex=stove_extra_x, ey=stove_extra_y, yt=stove_yticks,
         px=LEFT_X, py=(80, 327), xr=(-0.0803, 1.572), yr=(-2.09, 40.87), ty=63, mirror=True,
         color="rgba(0,0,0,0.12)", lw=0.6),
    dict(t=oven_t, runs=oven_runs, ex=oven_extra_x, ey=oven_extra_y, yt=oven_yticks,
         px=RIGHT_X, py=(80, 327), xr=(-0.094, 1.896), yr=(-2.15, 57.4), ty=63, mirror=False,
         color="rgba(0,0,0,0.13)", lw=0.6),
    dict(t=furnace_t, runs=furnace_runs, ex=furnace_extra_x, ey=furnace_extra_y, yt=furnace_yticks,
         px=LEFT_X, py=(428, 674), xr=(-0.0803, 1.572), yr=(-2.34, 47.35), ty=410, mirror=True,
         color="rgba(0,0,0,0.22)", lw=0.6),
    dict(t=boiler_t, runs=boiler_runs, ex=boiler_extra_x, ey=boiler_extra_y, yt=boiler_yticks,
         px=RIGHT_X, py=(428, 674), xr=(-0.0775, 1.536), yr=(-2.1, 47.1), ty=410, mirror=False,
         color="rgba(0,0,0,0.33)", lw=0.7),
    dict(t=wh_t, runs=wh_runs, ex=wh_extra_x, ey=wh_extra_y, yt=wh_yticks,
         px=LEFT_X, py=(780, 1023), xr=(-0.0803, 1.572), yr=(-1.93, 33.32), ty=758.5, mirror=True,
         color="rgba(0,0,0,0.28)", lw=0.7),
    dict(t=tankless_t, runs=tankless_runs, ex=tankless_extra_x, ey=tankless_extra_y, yt=tankless_yticks,
         px=RIGHT_X, py=(776, 1023), xr=(-0.0775, 1.536), yr=(-2.04, 46.96), ty=757.5, mirror=False,
         color="rgba(0,0,0,0.33)", lw=0.7),
]

FONT = "Liberation Sans, Arial, Helvetica, sans-serif"
BORDER = "#333333"
GRID = "#e4e4e4"
GRID_MINOR = "#eeeeee"


def sqrt_vals(v):
    a = np.array([np.nan if x is None else x for x in v], dtype=float)
    return np.sqrt(a)


def minor_breaks(ticks, lo, hi):
    b = list(np.sqrt(np.array(ticks, dtype=float)))
    bd = b[1] - b[0]
    if lo < b[0]:
        b = [b[0] - bd] + b
    if hi > b[-1]:
        b = b + [b[-1] + bd]
    out = []
    for i in range(len(b) - 1):
        out += [b[i], (b[i] + b[i + 1]) / 2]
    out.append(b[-1])
    major = np.sqrt(np.array(ticks, dtype=float))
    return [v for v in out if lo <= v <= hi and np.min(np.abs(major - v)) > 1e-6]


fig = go.Figure()
layout = dict(
    width=W, height=H, margin=dict(l=0, r=0, t=0, b=0),
    paper_bgcolor="white", plot_bgcolor="white", showlegend=False,
    font=dict(family=FONT, color="black"),
)
annotations = []

for i, p in enumerate(panels, start=1):
    xa = "x" if i == 1 else f"x{i}"
    ya = "y" if i == 1 else f"y{i}"
    t = p["t"]
    for row in p["runs"]:
        n = min(len(row), len(t))
        fig.add_trace(go.Scatter(x=t[:n], y=sqrt_vals(row[:n]), mode="lines", xaxis=xa, yaxis=ya,
                                 line=dict(color=p["color"], width=p["lw"]), hoverinfo="skip"))
    for ex, ey in zip(p["ex"], p["ey"]):
        n = min(len(ex), len(ey))
        fig.add_trace(go.Scatter(x=ex[:n], y=sqrt_vals(ey[:n]), mode="lines", xaxis=xa, yaxis=ya,
                                 line=dict(color=p["color"], width=p["lw"]), hoverinfo="skip"))

    xdom = [p["px"][0] / W, min(p["px"][1] / W, 1.0)]
    ydom = [1 - p["py"][1] / H, 1 - p["py"][0] / H]
    xk = "xaxis" if i == 1 else f"xaxis{i}"
    yk = "yaxis" if i == 1 else f"yaxis{i}"
    layout[xk] = dict(
        domain=xdom, range=list(p["xr"]), anchor=ya,
        tickmode="array", tickvals=x_tickvals, ticktext=x_ticktext,
        ticks="outside", ticklen=5, tickwidth=1, tickcolor=BORDER,
        tickfont=dict(family=FONT, size=16, color="#4d4d4d"),
        showline=True, linecolor=BORDER, linewidth=1.3, mirror=True,
        showgrid=True, gridcolor=GRID, gridwidth=1, zeroline=False,
        minor=dict(tickmode="array", tickvals=[v for v in x_minor if p["xr"][0] <= v <= p["xr"][1]],
                   showgrid=True, gridcolor=GRID_MINOR, gridwidth=0.8, ticks=""),
        fixedrange=True,
    )
    yt = p["yt"]
    layout[yk] = dict(
        domain=ydom, range=list(p["yr"]), anchor=xa,
        tickmode="array", tickvals=list(np.sqrt(np.array(yt, dtype=float))), ticktext=[str(v) for v in yt],
        ticks="outside", ticklen=5, tickwidth=1, tickcolor=BORDER,
        tickfont=dict(family=FONT, size=16, color="#4d4d4d"),
        showline=True, linecolor=BORDER, linewidth=1.3, mirror=p["mirror"],
        showgrid=True, gridcolor=GRID, gridwidth=1, zeroline=False,
        minor=dict(tickmode="array", tickvals=minor_breaks(yt, p["yr"][0], p["yr"][1]),
                   showgrid=True, gridcolor=GRID_MINOR, gridwidth=0.8, ticks=""),
        fixedrange=True,
    )
    annotations.append(dict(text=panel_titles[i - 1], xref="paper", yref="paper",
                            x=p["px"][0] / W, y=1 - p["ty"] / H, xanchor="left", yanchor="middle",
                            showarrow=False, font=dict(family=FONT, size=23, color="black")))

annotations += [
    dict(text=main_title, xref="paper", yref="paper", x=574 / W, y=1 - 27 / H,
         xanchor="center", yanchor="middle", showarrow=False,
         font=dict(family=FONT, size=21.5, color="black")),
    dict(text=y_title, xref="paper", yref="paper", x=27 / W, y=1 - 543 / H, textangle=-90,
         xanchor="center", yanchor="middle", showarrow=False,
         font=dict(family=FONT, size=20.5, color="black")),
    dict(text=x_title, xref="paper", yref="paper", x=576.5 / W, y=1 - 1100 / H,
         xanchor="center", yanchor="middle", showarrow=False,
         font=dict(family=FONT, size=21, color="black")),
]
layout["annotations"] = annotations

BLUE = "#0000ff"
layout["shapes"] = [
    dict(type="line", xref="paper", yref="paper", x0=6 / W, x1=1.01, y0=1 - 11.7 / H, y1=1 - 11.7 / H,
         line=dict(color=BLUE, width=4.7)),
    dict(type="line", xref="paper", yref="paper", x0=8.3 / W, x1=8.3 / W, y0=1 - 9.4 / H, y1=1 - 1114 / H,
         line=dict(color=BLUE, width=4.5)),
    dict(type="line", xref="paper", yref="paper", x0=6 / W, x1=1.01, y0=1 - 1112.5 / H, y1=1 - 1112.5 / H,
         line=dict(color=BLUE, width=3)),
]

fig.update_layout(**layout)
fig.write_html(
    "out.html",
    config={"displayModeBar": False, "staticPlot": True},
    post_script="document.body.style.margin='0px';document.body.style.overflow='hidden';",
)
